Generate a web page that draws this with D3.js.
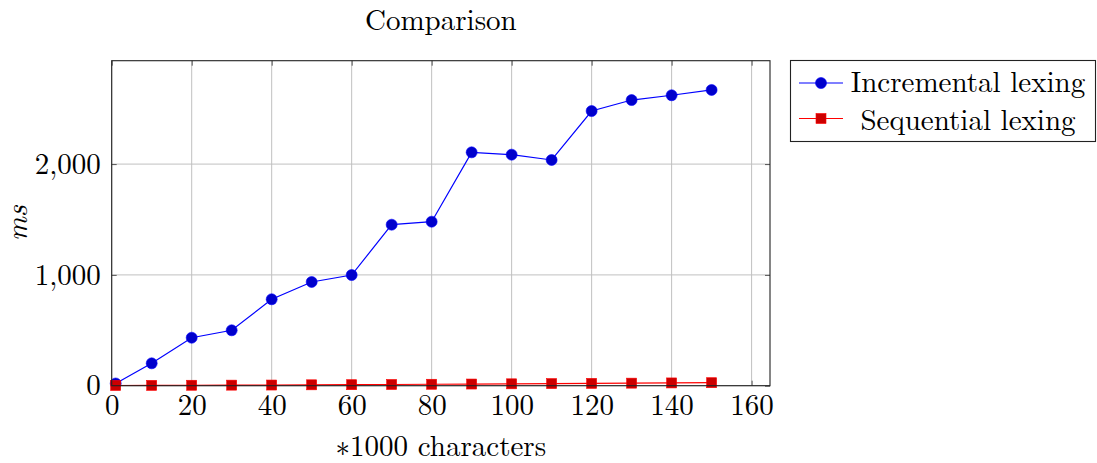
<!DOCTYPE html>
<html><head><meta charset="utf-8">
<script src="https://cdn.jsdelivr.net/npm/d3@7"></script>
<style>body{margin:0;background:#fff}</style>
</head><body><svg id="c" width="1097" height="463"></svg>
<script>
const xs = [1,10,20,30,40,50,60,70,80,90,100,110,120,130,140,150];
const incremental = [20,202,433,500,780,936,999,1453,1480,2106,2085,2037,2479,2578,2621,2669];
const sequential = [2,3,4,5,6,8,9,11,13,15,17,19,21,23,25,27];
const xTicks = [0,20,40,60,80,100,120,140,160];
const yTicks = [0,1000,2000];
const seriesNames = ["Incremental lexing","Sequential lexing"];

const FF = "Latin Modern Roman";
const FS = 29;
const svg = d3.select("#c");
const L=111.7,R=770,T=60.7,B=385.7;
const x = d3.scaleLinear().domain([0,164.6]).range([L,R]);
const y = d3.scaleLinear().domain([0,2933]).range([B,T]);
const fmt = d3.format(",");

// grid
const g = svg.append("g");
g.selectAll(".vx").data(xTicks).join("line").attr("x1",d=>x(d)).attr("x2",d=>x(d)).attr("y1",T).attr("y2",B).attr("stroke","#c0c0c0").attr("stroke-width",1);
g.selectAll(".hy").data(yTicks).join("line").attr("y1",d=>y(d)).attr("y2",d=>y(d)).attr("x1",L).attr("x2",R).attr("stroke","#c0c0c0").attr("stroke-width",1);

// axes with inner ticks
const axB = d3.axisBottom(x).tickValues(xTicks).tickSize(-5).tickPadding(9).tickFormat(d3.format("d"));
const axT = d3.axisTop(x).tickValues(xTicks).tickSize(-5).tickFormat("");
const axL = d3.axisLeft(y).tickValues(yTicks).tickSize(-5).tickPadding(11).tickFormat(fmt);
const axR = d3.axisRight(y).tickValues(yTicks).tickSize(-5).tickFormat("");
function style(sel){sel.attr("font-family",FF).attr("font-size",FS);sel.select(".domain").remove();sel.selectAll(".tick line").attr("stroke","#555");sel.selectAll("text").attr("fill","#000");}
svg.append("g").attr("transform",`translate(0,${B})`).call(axB).call(style);
svg.append("g").attr("transform",`translate(0,${T})`).call(axT).call(style);
svg.append("g").attr("transform",`translate(${L},0)`).call(axL).call(style);
svg.append("g").attr("transform",`translate(${R},0)`).call(axR).call(style);

const plot = svg.append("g");
const line = d3.line().x(d=>x(d[0])).y(d=>y(d[1]));
const incData = xs.map((v,i)=>[v,incremental[i]]);
const seqData = xs.map((v,i)=>[v,sequential[i]]);
plot.append("path").attr("d",line(incData)).attr("fill","none").attr("stroke","#0000ff").attr("stroke-width",1.2);
plot.append("path").attr("d",line(seqData)).attr("fill","none").attr("stroke","#ff0000").attr("stroke-width",1.2);
plot.selectAll(".ci").data(incData).join("circle").attr("cx",d=>x(d[0])).attr("cy",d=>y(d[1])).attr("r",5.5).attr("fill","#0000cc").attr("stroke","#0000ff").attr("stroke-width",0.6);
plot.selectAll(".sq").data(seqData).join("rect").attr("x",d=>x(d[0])-5).attr("y",d=>y(d[1])-5).attr("width",10).attr("height",10).attr("fill","#cc0000").attr("stroke","#ff0000").attr("stroke-width",0.6);

// frame
svg.append("rect").attr("x",L).attr("y",T).attr("width",R-L).attr("height",B-T).attr("fill","none").attr("stroke","#222").attr("stroke-width",1.1);

function txt(xp,yp,s,anchor){return svg.append("text").attr("x",xp).attr("y",yp).attr("text-anchor",anchor||"middle").attr("font-family",FF).attr("font-size",FS).attr("fill","#000").text(s);}
// titles
txt((L+R)/2,30,"Comparison");
txt((L+R)/2,456,"\u22171000 characters");
svg.append("text").attr("transform",`translate(27,${(T+B)/2}) rotate(-90)`).attr("text-anchor","middle").attr("font-family",FF).attr("font-size",FS).attr("font-style","italic").attr("fill","#000").text("ms");

// legend
const lg = svg.append("g");
lg.append("rect").attr("x",790.5).attr("y",60.5).attr("width",305).attr("height",81).attr("fill","#fff").attr("stroke","#222").attr("stroke-width",1.1);
const rows=[{n:seriesNames[0],c:"#0000ff",f:"#0000cc",s:"circle",yy:83,bl:92},{n:seriesNames[1],c:"#ff0000",f:"#cc0000",s:"square",yy:118.5,bl:130}];
rows.forEach(r=>{
  lg.append("line").attr("x1",799).attr("x2",843).attr("y1",r.yy).attr("y2",r.yy).attr("stroke",r.c).attr("stroke-width",1.2);
  if(r.s==="circle") lg.append("circle").attr("cx",821).attr("cy",r.yy).attr("r",5.5).attr("fill",r.f).attr("stroke",r.c).attr("stroke-width",0.6);
  else lg.append("rect").attr("x",816).attr("y",r.yy-5).attr("width",10).attr("height",10).attr("fill",r.f).attr("stroke",r.c).attr("stroke-width",0.6);
  lg.append("text").attr("x",968).attr("y",r.bl).attr("text-anchor","middle").attr("font-family",FF).attr("font-size",FS).attr("fill","#000").text(r.n);
});
</script></body></html>
